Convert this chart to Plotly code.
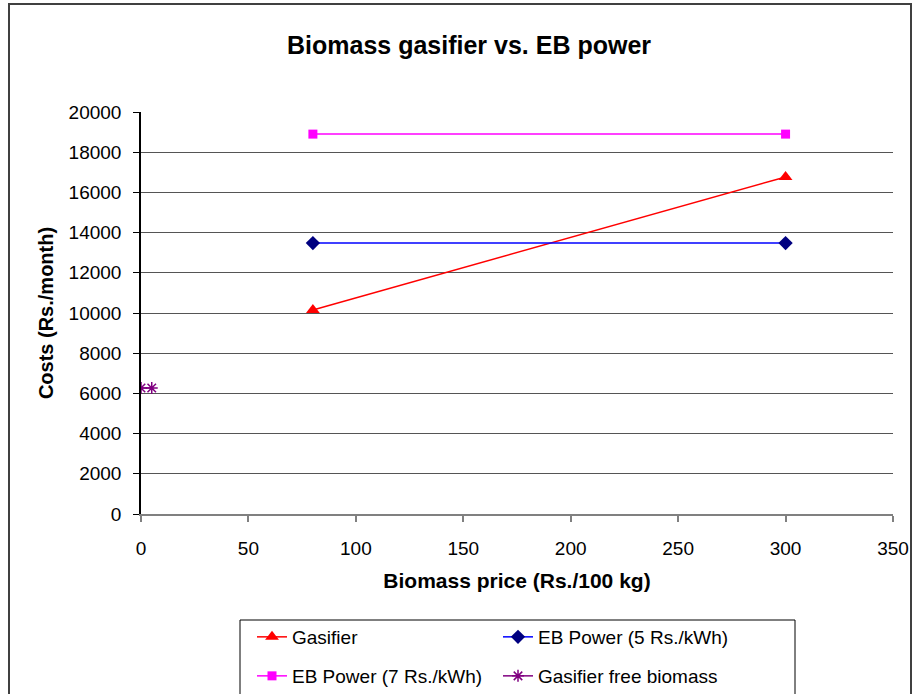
import plotly.graph_objects as go

# Data
gasifier_x = [80, 300]
gasifier_y = [10150, 16770]
eb5_x = [80, 300]
eb5_y = [13480, 13480]
eb7_x = [80, 300]
eb7_y = [18900, 18900]
free_x = [0, 5]
free_y = [6270, 6270]

FONT = "Liberation Sans, Arial, sans-serif"

W, H = 915, 694

fig = go.Figure()
fig.add_trace(go.Scatter(x=gasifier_x, y=gasifier_y, mode="lines+markers", name="Gasifier",
                         line=dict(color="#FF0000", width=1.5),
                         marker=dict(symbol="triangle-up", size=12, color="#FF0000"),
                         legend="legend"))
fig.add_trace(go.Scatter(x=eb5_x, y=eb5_y, mode="lines+markers", name="EB Power (5 Rs./kWh)",
                         line=dict(color="#0000FF", width=1.5),
                         marker=dict(symbol="diamond", size=11, color="#000080"),
                         legend="legend"))
fig.add_trace(go.Scatter(x=eb7_x, y=eb7_y, mode="lines+markers", name="EB Power (7 Rs./kWh)",
                         line=dict(color="#FF00FF", width=1.5),
                         marker=dict(symbol="square", size=9, color="#FF00FF"),
                         legend="legend2"))
fig.add_trace(go.Scatter(x=free_x, y=free_y, mode="lines+markers", name="Gasifier free biomass",
                         line=dict(color="#800080", width=1.5),
                         marker=dict(symbol="asterisk-open", size=10, color="#800080",
                                     line=dict(color="#800080", width=1.5)),
                         legend="legend2"))

legend_common = dict(orientation="h", font=dict(family=FONT, size=19, color="#000000"),
                     entrywidth=201, entrywidthmode="pixels", bgcolor="rgba(0,0,0,0)",
                     xanchor="left", yanchor="top", xref="paper", yref="paper",
                     itemclick=False, borderwidth=0)

fig.update_layout(
    width=W, height=H,
    paper_bgcolor="#FFFFFF", plot_bgcolor="#FFFFFF",
    margin=dict(l=141, r=W - 893, t=112, b=H - 514, autoexpand=False),
    title=dict(text="<b>Biomass gasifier vs. EB power</b>", x=469 / W, xref="container",
               xanchor="center", y=1 - 45 / H, yref="container", yanchor="middle",
               font=dict(family=FONT, size=25, color="#000000")),
    legend=dict(**legend_common, x=(252 - 141) / 752, y=(514 - 618) / 402),
    legend2=dict(**legend_common, x=(252 - 141) / 752, y=(514 - 657) / 402),
    xaxis=dict(range=[0, 350], dtick=50, tick0=0, showgrid=False, zeroline=False,
               showline=True, linecolor="#808080", linewidth=1.5,
               ticks="outside", ticklen=6, tickcolor="#808080", tickwidth=1.5,
               ticklabelstandoff=10, tickformat="d",
               tickfont=dict(family=FONT, size=19, color="#000000"),
               title=dict(text="<b>Biomass price (Rs./100 kg)</b>", standoff=16,
                          font=dict(family=FONT, size=21, color="#000000"))),
    yaxis=dict(range=[0, 20000], dtick=2000, tick0=0, showgrid=True, gridcolor="#555555",
               gridwidth=1, zeroline=False, showline=True, linecolor="#000000", linewidth=1.5,
               ticks="outside", ticklen=6, tickcolor="#000000", tickwidth=1,
               ticklabelstandoff=8, tickformat="d",
               tickfont=dict(family=FONT, size=19, color="#000000"),
               title=dict(text="<b>Costs (Rs./month)</b>", standoff=10,
                          font=dict(family=FONT, size=20, color="#000000"))),
    showlegend=True,
)

# Outer chart border and legend box
fig.add_shape(type="rect", xref="paper", yref="paper",
              x0=(9 - 141) / 752, x1=(911 - 141) / 752, y0=(514 - 720) / 402, y1=(514 - 4) / 402,
              line=dict(color="#404040", width=2), fillcolor="rgba(0,0,0,0)", layer="below")
fig.add_shape(type="rect", xref="paper", yref="paper",
              x0=(240 - 141) / 752, x1=(795 - 141) / 752, y0=(514 - 715) / 402, y1=(514 - 620) / 402,
              line=dict(color="#000000", width=1), fillcolor="rgba(0,0,0,0)", layer="below")

fig.write_html("out.html", config={"displayModeBar": False},
               post_script="document.body.style.margin='0px';")
